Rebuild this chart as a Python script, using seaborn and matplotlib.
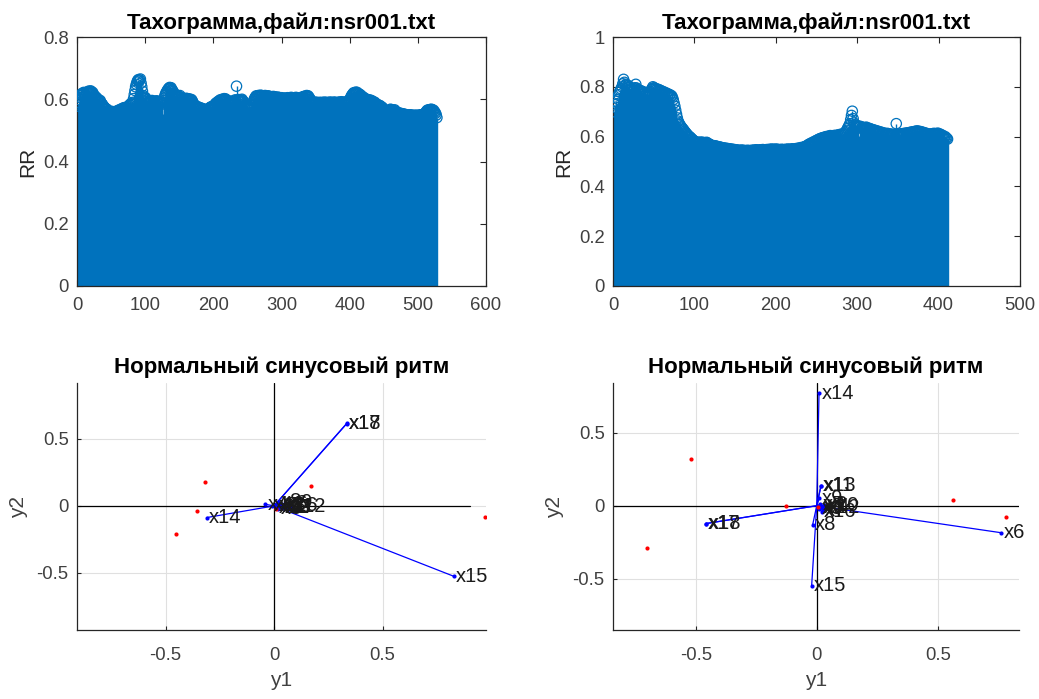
import numpy as np
import matplotlib
matplotlib.use("Agg")
import matplotlib.pyplot as plt
import seaborn as sns
import pandas as pd

# ---------------- data ----------------
# RR intervals (ms), record nsr001, two fragments
rr1_ms = [
585, 578, 590, 598, 605, 612, 618, 615, 620, 622, 617, 610, 614, 619, 621, 624, 626, 620, 623, 627,
624, 619, 622, 616, 612, 608, 604, 607, 601, 598, 600, 595, 592, 596, 590, 586, 584, 580, 577, 575,
572, 569, 566, 568, 563, 560, 562, 558, 556, 559, 561, 557, 555, 558, 560, 556, 559, 562, 558, 561,
564, 566, 562, 565, 568, 570, 567, 571, 573, 569, 572, 574, 570, 573, 576, 578, 582, 580, 585, 588,
584, 590, 602, 615, 628, 640, 648, 655, 660, 663, 658, 662, 665, 652, 640, 626, 612, 604, 600, 606,
603, 598, 594, 590, 592, 595, 591, 588, 593, 596, 590, 587, 591, 594, 589, 592, 595, 590, 586, 589,
593, 590, 587, 591, 588, 552, 596, 604, 612, 618, 622, 626, 630, 633, 636, 638, 634, 637, 631, 628,
625, 620, 616, 612, 610, 613, 608, 611, 606, 609, 612, 605, 602, 600, 604, 598, 601, 597, 600, 603,
599, 602, 598, 601, 597, 600, 596, 599, 595, 590, 586, 582, 578, 575, 577, 573, 576, 572, 574, 570,
572, 568, 571, 566, 569, 564, 567, 563, 566, 565, 562, 567, 569, 572, 570, 574, 576, 573, 577, 575,
579, 582, 585, 588, 586, 590, 593, 591, 595, 598, 594, 597, 600, 596, 599, 602, 598, 601, 597, 594,
596, 592, 589, 593, 590, 587, 591, 594, 590, 588, 592, 598, 596, 642, 560, 596, 599, 595, 598, 594,
597, 600, 596, 593, 590, 586, 583, 580, 577, 575, 572, 574, 571, 573, 576, 579, 583, 588, 594, 600,
604, 608, 611, 607, 610, 612, 608, 611, 613, 609, 612, 610, 607, 611, 609, 612, 608, 610, 606, 609,
611, 607, 604, 608, 605, 602, 606, 609, 605, 608, 603, 606, 602, 605, 607, 603, 600, 604, 601, 605,
602, 599, 603, 600, 604, 601, 598, 602, 605, 601, 604, 600, 603, 606, 602, 605, 601, 604, 600, 603,
606, 602, 605, 601, 604, 600, 603, 598, 602, 605, 608, 604, 607, 610, 568, 609, 612, 608, 611, 607,
604, 600, 596, 592, 589, 587, 590, 586, 588, 591, 587, 589, 585, 588, 590, 586, 589, 587, 590, 588,
585, 588, 591, 587, 589, 586, 590, 588, 585, 589, 591, 587, 590, 588, 586, 589, 591, 588, 590, 587,
589, 586, 590, 588, 591, 587, 589, 592, 588, 590, 587, 589, 591, 588, 590, 592, 589, 591, 594, 598,
603, 608, 612, 615, 618, 621, 617, 620, 623, 619, 622, 618, 615, 617, 612, 614, 610, 608, 605, 607,
603, 600, 598, 601, 597, 599, 596, 598, 595, 597, 594, 596, 593, 590, 592, 588, 590, 586, 584, 581,
583, 579, 581, 577, 579, 575, 572, 574, 570, 567, 565, 562, 564, 560, 562, 558, 561, 563, 565, 568,
566, 563, 565, 561, 563, 566, 562, 559, 556, 558, 554, 556, 553, 555, 552, 554, 551, 553, 550, 552,
549, 551, 548, 550, 547, 549, 546, 548, 550, 547, 549, 546, 548, 545, 547, 549, 546, 548, 545, 547,
549, 546, 548, 550, 547, 549, 551, 548, 550, 553, 556, 559, 562, 565, 563, 566, 564, 567, 565, 568,
566, 563, 565, 561, 558, 555, 549, 541,
]

rr2_ms = [
700, 728, 718, 742, 732, 750, 768, 779, 786, 792, 800, 812, 830, 818, 806, 810, 803, 797, 805, 799,
792, 787, 790, 784, 788, 793, 796, 810, 795, 789, 785, 781, 786, 779, 783, 776, 780, 772, 777, 769,
700, 774, 768, 771, 776, 781, 788, 793, 800, 796, 790, 794, 787, 791, 784, 789, 782, 786, 779, 783,
776, 780, 773, 777, 770, 774, 767, 771, 764, 768, 760, 764, 757, 748, 735, 722, 706, 690, 675, 662,
655, 648, 643, 638, 634, 630, 626, 621, 617, 613, 609, 605, 602, 599, 597, 593, 590, 587, 584, 582,
579, 576, 578, 575, 577, 574, 576, 578, 575, 577, 574, 576, 573, 575, 577, 574, 572, 570, 568, 566,
565, 563, 564, 561, 563, 560, 562, 559, 557, 559, 556, 558, 555, 553, 555, 552, 554, 551, 553, 550,
552, 549, 551, 548, 550, 547, 549, 546, 548, 545, 547, 544, 546, 543, 545, 542, 544, 546, 543, 545,
542, 544, 541, 543, 545, 542, 544, 541, 543, 545, 542, 544, 546, 543, 545, 547, 544, 546, 543, 545,
547, 544, 546, 548, 545, 547, 544, 546, 548, 545, 547, 549, 546, 548, 550, 547, 549, 546, 548, 550,
547, 549, 546, 548, 545, 547, 549, 546, 548, 545, 547, 549, 546, 548, 550, 547, 549, 546, 548, 551,
548, 550, 547, 549, 552, 549, 551, 554, 551, 553, 556, 553, 555, 558, 556, 559, 562, 560, 564, 567,
570, 568, 572, 575, 573, 577, 580, 578, 582, 585, 583, 587, 590, 588, 592, 594, 591, 595, 597, 594,
598, 600, 597, 601, 599, 602, 604, 601, 603, 600, 604, 602, 605, 603, 601, 606, 604, 608, 605, 609,
607, 611, 608, 612, 615, 620, 625, 632, 638, 645, 652, 668, 685, 702, 672, 655, 648, 642, 638, 645,
640, 603, 636, 641, 634, 638, 632, 636, 630, 634, 638, 635, 632, 629, 633, 627, 630, 624, 628, 622,
626, 620, 624, 618, 622, 616, 620, 614, 618, 612, 616, 610, 614, 608, 612, 609, 613, 607, 611, 605,
609, 606, 610, 604, 608, 600, 510, 652, 604, 609, 605, 610, 606, 611, 607, 612, 608, 613, 609, 614,
610, 615, 611, 616, 612, 618, 614, 619, 615, 620, 616, 622, 618, 623, 619, 621, 617, 620, 615, 618,
613, 616, 611, 614, 609, 612, 607, 610, 605, 608, 611, 607, 610, 613, 609, 612, 608, 611, 614, 610,
607, 610, 606, 603, 605, 601, 598, 600, 596, 593, 590,
]

# biplot (PCA) loadings and scores
var_labels = ["x%d" % i for i in range(1, 19)]
load1_x = [0.030, 0.060, 0.020, -0.040, 0.010, 0.050, 0.040, 0.020, 0.070, 0.010,
           0.030, 0.080, -0.010, -0.310, 0.829, 0.045, 0.335, 0.336]
load1_y = [0.010, -0.010, -0.020, 0.012, 0.005, 0.020, -0.015, 0.030, 0.025, -0.010,
           -0.005, -0.005, 0.000, -0.087, -0.525, 0.000, 0.615, 0.614]
score1_x = [-0.320, -0.356, -0.452, 0.169, 0.973, 0.010]
score1_y = [0.177, -0.037, -0.210, 0.149, -0.082, -0.020]

load2_x = [0.020, 0.030, 0.010, 0.040, 0.015, 0.762, 0.025, -0.017, 0.010, 0.030,
           0.017, 0.035, 0.018, 0.0095, -0.021, 0.020, -0.459, -0.458]
load2_y = [-0.010, 0.005, -0.020, -0.005, 0.010, -0.185, -0.030, -0.132, 0.050, 0.000,
           0.135, -0.015, 0.137, 0.770, -0.548, -0.040, -0.123, -0.122]
score2_x = [-0.519, -0.700, -0.127, 0.563, 0.783, 0.005]
score2_y = [0.318, -0.292, 0.000, 0.039, -0.075, -0.010]

# ---------------- style ----------------
sns.set_theme(style="white")
plt.rcParams["font.family"] = ["Liberation Sans", "DejaVu Sans"]
TXT = "#262626"
TICK = "#404040"
BLUE = "#0072BD"
TICKSIZE = 13.3
LABELSIZE = 15
TITLESIZE = 16

fig = plt.figure(figsize=(10.39, 6.99), dpi=100)
W, H = 1039.0, 699.0


def add_axes(l, t, r, b):
    return fig.add_axes([l / W, 1 - b / H, (r - l) / W, (b - t) / H])


def style_box(ax):
    for s in ax.spines.values():
        s.set_color(TXT)
        s.set_linewidth(0.9)
    ax.tick_params(direction="in", length=4, width=0.8, colors=TXT,
                   labelcolor=TICK, labelsize=TICKSIZE, top=True, right=True,
                   bottom=True, left=True)
    ax.tick_params(axis="x", pad=8)
    ax.tick_params(axis="y", pad=6)


def stem_panel(ax, rr_ms, xmax, ymax, yticks, yticklabels):
    df = pd.DataFrame({"n": np.arange(1, len(rr_ms) + 1),
                       "RR": np.asarray(rr_ms) / 1000.0})
    ax.vlines(df["n"], 0, df["RR"], color=BLUE, linewidth=1.0)
    sns.scatterplot(data=df, x="n", y="RR", ax=ax, marker="o", s=55,
                    facecolor="none", edgecolor=BLUE, linewidth=0.9,
                    legend=False, zorder=3)
    ax.set_xlim(0, xmax)
    ax.set_ylim(0, ymax)
    ax.set_xticks(np.arange(0, xmax + 1, 100))
    ax.set_yticks(yticks)
    ax.set_yticklabels(yticklabels)
    ax.set_xlabel("")
    ax.set_ylabel("RR", fontsize=LABELSIZE, color=TXT, labelpad=4)
    ax.set_title("Тахограмма,файл:nsr001.txt", fontsize=TITLESIZE,
                 fontweight="bold", color="black", pad=6)
    style_box(ax)


def biplot_panel(ax, lx, ly, sx, sy, xlim, ylim, maxlen):
    ax.set_xlim(*xlim)
    ax.set_ylim(*ylim)
    ax.grid(True, color="#e0e0e0", linewidth=0.8)
    ax.set_axisbelow(True)
    ax.plot([-maxlen, maxlen], [0, 0], color="black", linewidth=0.9, zorder=1)
    ax.plot([0, 0], [ylim[0], ylim[1]], color="black", linewidth=0.9, zorder=1)
    for xe, ye in zip(lx, ly):
        ax.plot([0, xe], [0, ye], color="#0000FF", linewidth=0.9, zorder=2)
    ld = pd.DataFrame({"x": lx, "y": ly})
    sns.scatterplot(data=ld, x="x", y="y", ax=ax, color="#0000FF", s=9,
                    linewidth=0, legend=False, zorder=3)
    sd = pd.DataFrame({"x": sx, "y": sy})
    sns.scatterplot(data=sd, x="x", y="y", ax=ax, color="#FF0000", s=9,
                    linewidth=0, legend=False, zorder=3)
    for lab, xe, ye in zip(var_labels, lx, ly):
        ax.text(xe + 0.01, ye, lab, fontsize=14.5, color="#1a1a1a",
                ha="left", va="center", zorder=4)
    ax.set_xticks([-0.5, 0, 0.5])
    ax.set_yticks([-0.5, 0, 0.5])
    ax.set_xticklabels(["-0.5", "0", "0.5"])
    ax.set_yticklabels(["-0.5", "0", "0.5"])
    ax.set_xlabel("y1", fontsize=LABELSIZE, color=TICK, labelpad=5)
    ax.set_ylabel("y2", fontsize=LABELSIZE, color=TICK, labelpad=6)
    ax.set_title("Нормальный синусовый ритм", fontsize=TITLESIZE,
                 fontweight="bold", color="black", pad=7)
    for side in ["top", "right"]:
        ax.spines[side].set_visible(False)
    for side in ["left", "bottom"]:
        ax.spines[side].set_color(TXT)
        ax.spines[side].set_linewidth(0.9)
    ax.tick_params(direction="in", length=3, width=0.8, colors=TXT,
                   labelcolor=TICK, labelsize=TICKSIZE,
                   bottom=True, left=True, top=False, right=False)
    ax.tick_params(axis="x", pad=12)
    ax.tick_params(axis="y", pad=6)


ax1 = add_axes(77, 37, 486, 286)
stem_panel(ax1, rr1_ms, 600, 0.8, [0, 0.2, 0.4, 0.6, 0.8],
           ["0", "0.2", "0.4", "0.6", "0.8"])

ax2 = add_axes(613, 37, 1020, 286)
stem_panel(ax2, rr2_ms, 500, 1.0, [0, 0.2, 0.4, 0.6, 0.8, 1.0],
           ["0", "0.2", "0.4", "0.6", "0.8", "1"])

ax3 = add_axes(77, 383, 486, 630)
biplot_panel(ax3, load1_x, load1_y, score1_x, score1_y,
             (-0.908, 0.977), (-0.925, 0.916), 0.905)

ax4 = add_axes(613, 383, 1019, 630)
biplot_panel(ax4, load2_x, load2_y, score2_x, score2_y,
             (-0.842, 0.836), (-0.851, 0.84), 0.84)

fig.savefig("out.png", dpi=100)
